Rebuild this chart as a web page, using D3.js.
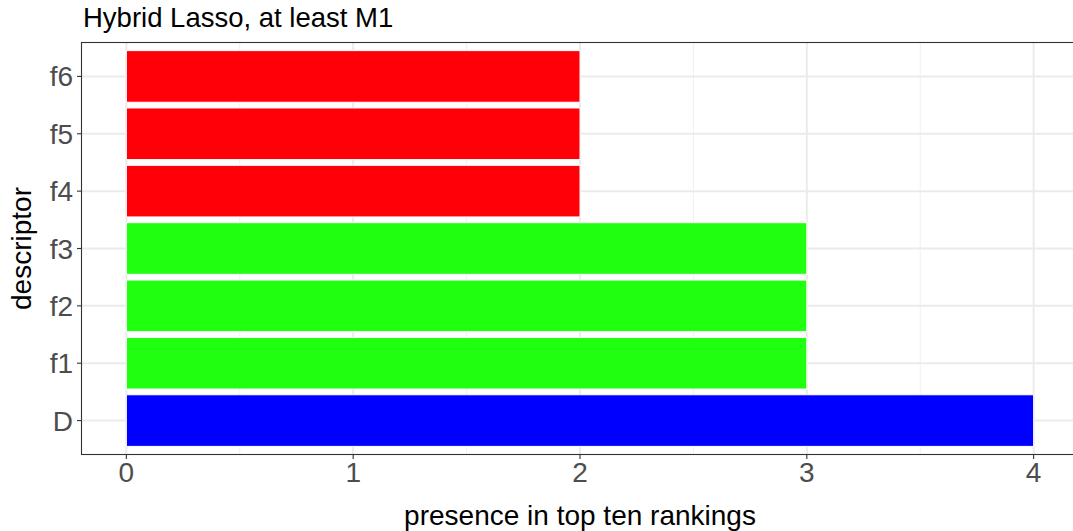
<!DOCTYPE html>
<html><head><meta charset="utf-8">
<script src="https://cdn.jsdelivr.net/npm/d3@7"></script>
<style>body{margin:0;background:#fff;} svg{display:block;font-family:"Liberation Sans",Arial,sans-serif;}</style>
</head><body>
<script>
const categories = ["D","f1","f2","f3","f4","f5","f6"];
const values = [4,3,3,3,2,2,2];
const groups = ["blue","green","green","green","red","red","red"];
const xTicks = [0,1,2,3,4];
const title = "Hybrid Lasso, at least M1";
const xLabel = "presence in top ten rankings";
const yLabel = "descriptor";
const colorMap = {blue:"#0000FF", green:"#1FFF0F", red:"#FF0008"};

const W=1073,H=531;
const m={left:81,top:42,right:-6,bottom:76};
const svg=d3.select("body").append("svg").attr("width",W).attr("height",H);
const pw=W-m.left-m.right, ph=H-m.top-m.bottom;
const x=d3.scaleLinear().domain([-0.2,4.2]).range([m.left,m.left+pw]);
const order=categories.slice().reverse();
const step=ph/7.2;
const yc=c=>m.top+step*(0.6+order.indexOf(c));
const g=svg.append("g");
const minor=[0.5,1.5,2.5,3.5];
g.selectAll(".mn").data(minor).enter().append("line").attr("x1",d=>x(d)).attr("x2",d=>x(d)).attr("y1",m.top).attr("y2",m.top+ph).attr("stroke","#F0F0F0").attr("stroke-width",1);
g.selectAll(".mj").data(xTicks).enter().append("line").attr("x1",d=>x(d)).attr("x2",d=>x(d)).attr("y1",m.top).attr("y2",m.top+ph).attr("stroke","#EBEBEB").attr("stroke-width",2);
g.selectAll(".my").data(categories).enter().append("line").attr("x1",m.left).attr("x2",m.left+pw).attr("y1",d=>yc(d)).attr("y2",d=>yc(d)).attr("stroke","#EBEBEB").attr("stroke-width",2);
g.selectAll(".bar").data(categories).enter().append("rect")
 .attr("x",x(0)).attr("width",(d,i)=>x(values[i])-x(0))
 .attr("y",d=>yc(d)-step*0.45).attr("height",step*0.9)
 .attr("fill",(d,i)=>colorMap[groups[i]]).attr("stroke","#fff").attr("stroke-width",1);
g.append("rect").attr("x",m.left+0.5).attr("y",m.top+0.5).attr("width",pw).attr("height",ph-1).attr("fill","none").attr("stroke","#333").attr("stroke-width",1.1);
g.selectAll(".xt").data(xTicks).enter().append("line").attr("x1",d=>x(d)).attr("x2",d=>x(d)).attr("y1",m.top+ph).attr("y2",m.top+ph+4).attr("stroke","#333").attr("stroke-width",1.1);
g.selectAll(".xl").data(xTicks).enter().append("text").attr("x",d=>x(d)).attr("y",m.top+ph+27).attr("text-anchor","middle").attr("font-size",28).attr("fill","#4D4D4D").text(d=>d);
g.selectAll(".yt").data(categories).enter().append("line").attr("x1",m.left-4).attr("x2",m.left).attr("y1",d=>yc(d)).attr("y2",d=>yc(d)).attr("stroke","#333").attr("stroke-width",1.1);
g.selectAll(".yl").data(categories).enter().append("text").attr("x",m.left-8).attr("y",d=>yc(d)).attr("dy","0.36em").attr("text-anchor","end").attr("font-size",28).attr("fill","#4D4D4D").text(d=>d);
svg.append("text").attr("x",83).attr("y",27).attr("font-size",27.5).attr("fill","#000").text(title);
svg.append("text").attr("x",580).attr("y",525).attr("text-anchor","middle").attr("font-size",28).attr("fill","#000").text(xLabel);
svg.append("text").attr("transform",`translate(31,${m.top+ph/2}) rotate(-90)`).attr("text-anchor","middle").attr("font-size",28).attr("fill","#000").text(yLabel);
</script>
</body></html>
